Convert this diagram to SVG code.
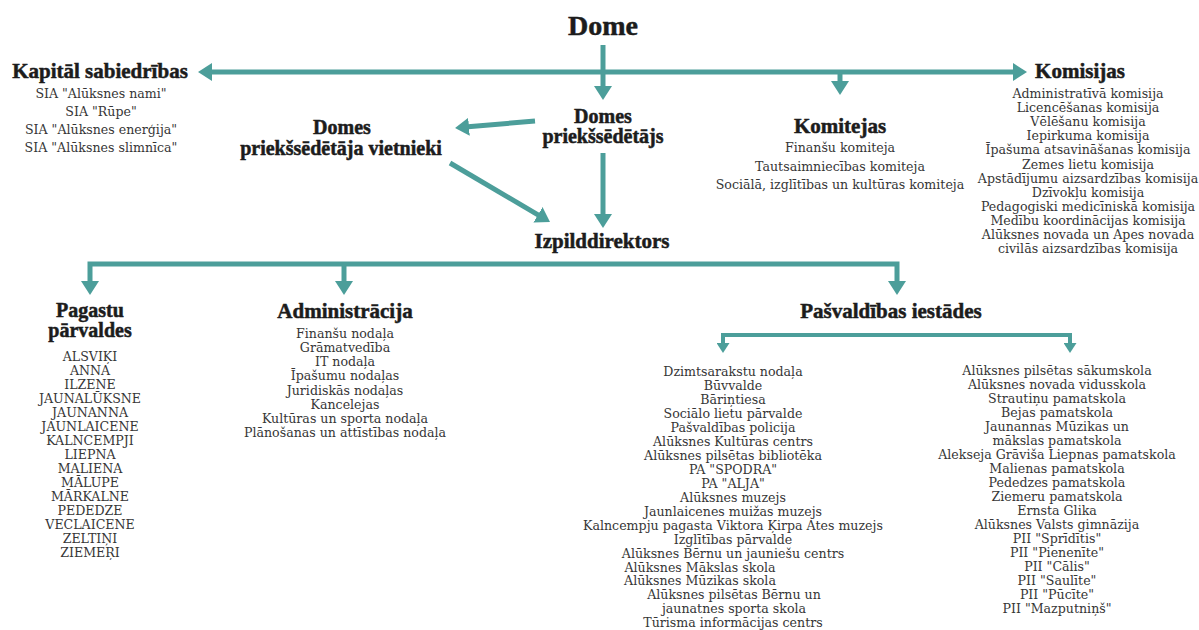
<svg xmlns="http://www.w3.org/2000/svg" width="1199" height="630" viewBox="0 0 1199 630">
<style>
.h{font-family:"Liberation Serif","Times New Roman",serif;font-weight:bold;font-size:21px;fill:#1c1c1c;stroke:#1c1c1c;stroke-width:0.5;text-anchor:middle}
.h2{font-size:20px}
.t{font-family:"DejaVu Serif","Liberation Serif",serif;font-size:12.6px;fill:#363636;text-anchor:middle}
.c{fill:none;stroke:#4c9e9a;stroke-width:5}
.c2{fill:none;stroke:#4c9e9a;stroke-width:4}
</style>
<defs>
<marker id="ah" viewBox="0 0 14 18" markerWidth="14" markerHeight="18" refX="4" refY="9" markerUnits="userSpaceOnUse" orient="auto-start-reverse">
<path d="M0,0 L14,9 L0,18 Z" fill="#4c9e9a"/>
</marker>
<marker id="as" viewBox="0 0 10 13" markerWidth="10" markerHeight="13" refX="3" refY="6.5" markerUnits="userSpaceOnUse" orient="auto-start-reverse">
<path d="M0,0 L10,6.5 L0,13 Z" fill="#4c9e9a"/>
</marker>
</defs>
<rect width="1199" height="630" fill="#ffffff"/>
<g id="connectors">
<line class="c" x1="208" y1="72" x2="1017" y2="72" marker-start="url(#ah)" marker-end="url(#ah)"/>
<line class="c" x1="603" y1="45" x2="603" y2="90" marker-end="url(#ah)"/>
<line class="c" x1="840" y1="72" x2="840" y2="85" marker-end="url(#ah)"/>
<line class="c" x1="535" y1="121" x2="465" y2="127.1" marker-end="url(#ah)"/>
<line class="c" x1="450" y1="163" x2="541.4" y2="216.9" marker-end="url(#ah)"/>
<line class="c" x1="603" y1="153" x2="603" y2="218" marker-end="url(#ah)"/>
<path class="c" d="M90,285 L90,264 L897,264 L897,285" marker-start="url(#ah)" marker-end="url(#ah)"/>
<line class="c" x1="344" y1="264" x2="344" y2="285" marker-end="url(#ah)"/>
<path class="c2" d="M723,346 L723,335 L1070,335 L1070,346" marker-start="url(#as)" marker-end="url(#as)"/>
</g>
<g id="dome"><text class="h" x="603" y="35" style="font-size:28px">Dome</text></g>
<g id="kapital">
<text class="h" x="100" y="78">Kapitāl sabiedrības</text>
<text class="t"><tspan x="101" y="98">SIA "Alūksnes nami"</tspan><tspan x="101" y="116">SIA "Rūpe"</tspan><tspan x="101" y="134">SIA "Alūksnes enerģija"</tspan><tspan x="101" y="152">SIA "Alūksnes slimnīca"</tspan></text>
</g>
<g id="komisijas">
<text class="h" x="1080" y="78">Komisijas</text>
<text class="t"><tspan x="1088" y="98">Administratīvā komisija</tspan><tspan x="1088" y="112.1">Licencēšanas komisija</tspan><tspan x="1088" y="126.2">Vēlēšanu komisija</tspan><tspan x="1088" y="140.3">Iepirkuma komisija</tspan><tspan x="1088" y="154.4">Īpašuma atsavināšanas komisija</tspan><tspan x="1088" y="168.5">Zemes lietu komisija</tspan><tspan x="1088" y="182.6">Apstādījumu aizsardzības komisija</tspan><tspan x="1088" y="196.7">Dzīvokļu komisija</tspan><tspan x="1088" y="210.8">Pedagogiski medicīniskā komisija</tspan><tspan x="1088" y="224.9">Medību koordinācijas komisija</tspan><tspan x="1088" y="239">Alūksnes novada un Apes novada</tspan><tspan x="1088" y="253.1">civilās aizsardzības komisija</tspan></text>
</g>
<g id="komitejas">
<text class="h" x="840" y="133">Komitejas</text>
<text class="t"><tspan x="840" y="152">Finanšu komiteja</tspan><tspan x="840" y="171">Tautsaimniecības komiteja</tspan><tspan x="840" y="189">Sociālā, izglītības un kultūras komiteja</tspan></text>
</g>
<g id="priekssedetajs">
<text class="h h2"><tspan x="603" y="123">Domes</tspan><tspan x="603" y="143">priekšsēdētājs</tspan></text>
</g>
<g id="vietnieki">
<text class="h h2"><tspan x="342" y="134">Domes</tspan><tspan x="341" y="155">priekšsēdētāja vietnieki</tspan></text>
</g>
<g id="izpilddirektors"><text class="h" x="602" y="248">Izpilddirektors</text></g>
<g id="pagastu">
<text class="h h2"><tspan x="90" y="317">Pagastu</tspan><tspan x="90" y="337">pārvaldes</tspan></text>
<text class="t"><tspan x="90" y="361">ALSVIĶI</tspan><tspan x="90" y="375">ANNA</tspan><tspan x="90" y="389">ILZENE</tspan><tspan x="90" y="403">JAUNALŪKSNE</tspan><tspan x="90" y="417">JAUNANNA</tspan><tspan x="90" y="431">JAUNLAICENE</tspan><tspan x="90" y="445">KALNCEMPJI</tspan><tspan x="90" y="459">LIEPNA</tspan><tspan x="90" y="473">MALIENA</tspan><tspan x="90" y="487">MĀLUPE</tspan><tspan x="90" y="501">MĀRKALNE</tspan><tspan x="90" y="515">PEDEDZE</tspan><tspan x="90" y="529">VECLAICENE</tspan><tspan x="90" y="543">ZELTIŅI</tspan><tspan x="90" y="557">ZIEMEŖI</tspan></text>
</g>
<g id="administracija">
<text class="h" x="345" y="318">Administrācija</text>
<text class="t"><tspan x="345" y="338">Finanšu nodaļa</tspan><tspan x="345" y="352.1">Grāmatvedība</tspan><tspan x="345" y="366.3">IT nodaļa</tspan><tspan x="345" y="380.4">Īpašumu nodaļas</tspan><tspan x="345" y="394.6">Juridiskās nodaļas</tspan><tspan x="345" y="408.7">Kancelejas</tspan><tspan x="345" y="422.9">Kultūras un sporta nodaļa</tspan><tspan x="345" y="437">Plānošanas un attīstības nodaļa</tspan></text>
</g>
<g id="iestades">
<text class="h" x="891" y="318">Pašvaldības iestādes</text>
</g>
<g id="iestades-left">
<text class="t"><tspan x="733" y="376">Dzimtsarakstu nodaļa</tspan><tspan x="733" y="390">Būvvalde</tspan><tspan x="733" y="404">Bāriņtiesa</tspan><tspan x="733" y="418">Sociālo lietu pārvalde</tspan><tspan x="733" y="432">Pašvaldības policija</tspan><tspan x="733" y="446">Alūksnes Kultūras centrs</tspan><tspan x="733" y="460">Alūksnes pilsētas bibliotēka</tspan><tspan x="733" y="474">PA "SPODRA"</tspan><tspan x="733" y="488">PA "ALJA"</tspan><tspan x="733" y="501.5">Alūksnes muzejs</tspan><tspan x="733" y="515.5">Jaunlaicenes muižas muzejs</tspan><tspan x="733" y="529.5">Kalncempju pagasta Viktora Ķirpa Ates muzejs</tspan><tspan x="733" y="543.5">Izglītības pārvalde</tspan><tspan x="733" y="557.5">Alūksnes Bērnu un jauniešu centrs</tspan><tspan x="700" y="571.5">Alūksnes Mākslas skola</tspan><tspan x="700" y="585">Alūksnes Mūzikas skola</tspan><tspan x="734" y="599">Alūksnes pilsētas Bērnu un</tspan><tspan x="734" y="613">jaunatnes sporta skola</tspan><tspan x="733" y="627">Tūrisma informācijas centrs</tspan></text>
</g>
<g id="iestades-right">
<text class="t"><tspan x="1057" y="375">Alūksnes pilsētas sākumskola</tspan><tspan x="1057" y="389">Alūksnes novada vidusskola</tspan><tspan x="1057" y="403">Strautiņu pamatskola</tspan><tspan x="1057" y="417">Bejas pamatskola</tspan><tspan x="1057" y="431">Jaunannas Mūzikas un</tspan><tspan x="1057" y="445">mākslas pamatskola</tspan><tspan x="1057" y="459">Alekseja Grāviša Liepnas pamatskola</tspan><tspan x="1057" y="473">Malienas pamatskola</tspan><tspan x="1057" y="487">Pededzes pamatskola</tspan><tspan x="1057" y="501">Ziemeru pamatskola</tspan><tspan x="1057" y="515">Ernsta Glika</tspan><tspan x="1057" y="529">Alūksnes Valsts gimnāzija</tspan><tspan x="1057" y="543">PII "Sprīdītis"</tspan><tspan x="1057" y="557">PII "Pienenīte"</tspan><tspan x="1057" y="571">PII "Cālis"</tspan><tspan x="1057" y="585">PII "Saulīte"</tspan><tspan x="1057" y="599">PII "Pūcīte"</tspan><tspan x="1057" y="613">PII "Mazputniņš"</tspan></text>
</g>
</svg>
